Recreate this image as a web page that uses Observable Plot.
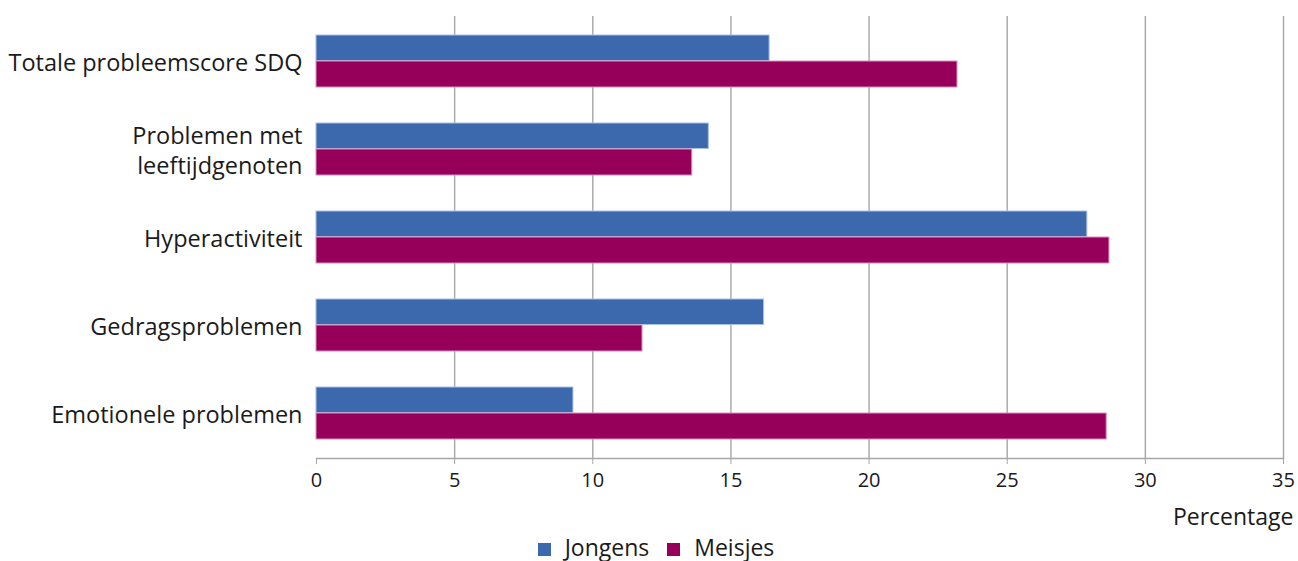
<!DOCTYPE html>
<html>
<head>
<meta charset="utf-8">
<script src="https://cdn.jsdelivr.net/npm/d3@7"></script>
<script src="https://cdn.jsdelivr.net/npm/@observablehq/plot@0.6"></script>
<style>
  html, body { margin: 0; padding: 0; background: #fff; }
  body { width: 1298px; height: 561px; overflow: hidden; font-family: "Open Sans", sans-serif; color: #1a1a1a; }
  .legend { display: flex; justify-content: center; align-items: center; height: 24px; line-height: 24px; font-size: 23px; padding-left: 14px; }
  .legend .item { display: flex; align-items: center; margin: 0 9px; }
  .legend .sw { width: 13px; height: 13px; margin-right: 14px; margin-top: 5px; }
</style>
</head>
<body>
<div id="chart"></div>
<script>
const categories = ["Totale probleemscore SDQ", "Problemen met leeftijdgenoten", "Hyperactiviteit", "Gedragsproblemen", "Emotionele problemen"];
const categoryLabels = ["Totale probleemscore SDQ", "Problemen met\nleeftijdgenoten", "Hyperactiviteit", "Gedragsproblemen", "Emotionele problemen"];
const series = ["Jongens", "Meisjes"];
const jongens = [16.4, 14.2, 27.9, 16.2, 9.3];
const meisjes = [23.2, 13.6, 28.7, 11.8, 28.6];
const xTicks = [0, 5, 10, 15, 20, 25, 30, 35];
const colors = ["#3c68ae", "#96005b"];
const strokes = ["#a9c0e6", "#d98fbb"];
const axisTitle = "Percentage";

const jData = categories.map((c, i) => ({category: c, series: series[0], value: jongens[i]}));
const mData = categories.map((c, i) => ({category: c, series: series[1], value: meisjes[i]}));
const labelOf = new Map(categories.map((c, i) => [c, categoryLabels[i]]));

const chart = Plot.plot({
  width: 1298,
  height: 535,
  marginTop: 16,
  marginBottom: 77,
  marginLeft: 316,
  marginRight: 15,
  style: {fontFamily: "Open Sans", fontSize: "20px", color: "#1a1a1a", background: "#fff"},
  x: {domain: [0, 35], ticks: xTicks, label: null},
  y: {domain: categories, paddingInner: 0.41, paddingOuter: 0.19, label: null},
  color: {domain: series, range: colors},
  marks: [
    Plot.gridX(xTicks.filter(d => d > 0), {stroke: "#a6a6a6", strokeOpacity: 1, strokeWidth: 1.4}),
    Plot.barX(jData, {y: "category", x: "value", fill: colors[0], stroke: strokes[0], strokeWidth: 1, insetBottom: 26.5}),
    Plot.barX(mData, {y: "category", x: "value", fill: colors[1], stroke: strokes[1], strokeWidth: 1, insetTop: 26}),
    Plot.frame({anchor: "bottom", stroke: "#a6a6a6", strokeWidth: 1.4}),
    Plot.axisX({ticks: xTicks, tickSize: 6, tickPadding: 8, stroke: "#a6a6a6", fontSize: 20, label: null}),
    Plot.axisY({tickSize: 0, tickPadding: 14, fontSize: 23.5, tickFormat: d => labelOf.get(d), label: null, lineHeight: 1.28}),
    Plot.text([axisTitle], {frameAnchor: "bottom-right", dx: 10, dy: 66, textAnchor: "end", fontSize: 23, fill: "#1a1a1a"})
  ]
});
document.getElementById("chart").appendChild(chart);

const legend = document.createElement("div");
legend.className = "legend";
series.forEach((s, i) => {
  const item = document.createElement("div");
  item.className = "item";
  const sw = document.createElement("span");
  sw.className = "sw";
  sw.style.background = colors[i];
  const t = document.createElement("span");
  t.textContent = s;
  item.appendChild(sw);
  item.appendChild(t);
  legend.appendChild(item);
});
document.body.appendChild(legend);
</script>
</body>
</html>
